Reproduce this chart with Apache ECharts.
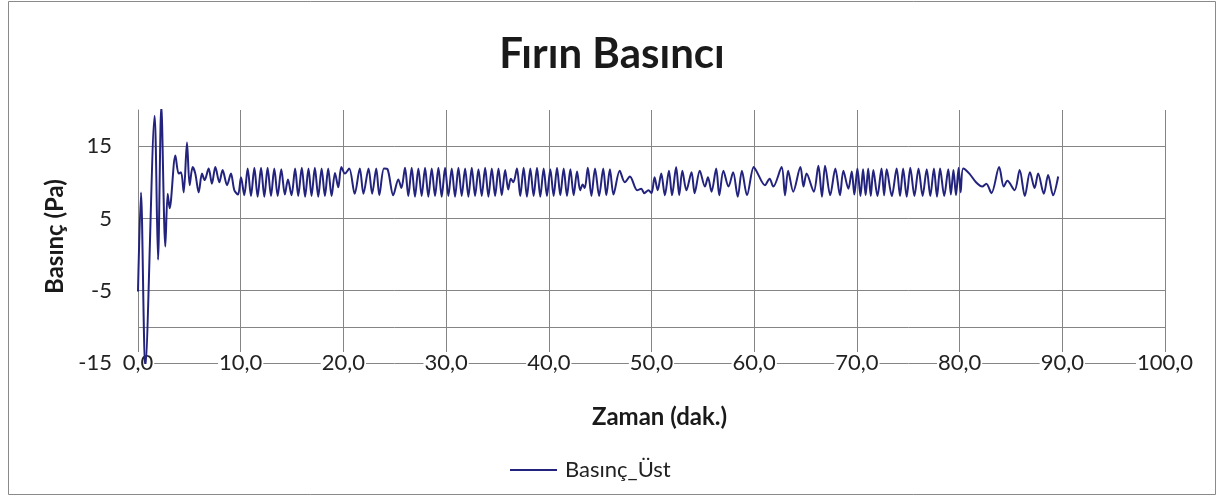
<!DOCTYPE html>
<html>
<head>
<meta charset="utf-8">
<script src="https://cdn.jsdelivr.net/npm/echarts@6/dist/echarts.min.js"></script>
<style>
html,body{margin:0;padding:0;background:#fff;}
#chart{width:1224px;height:501px;}
</style>
</head>
<body>
<div id="chart"></div>
<script>
var basinc_0_20 = [
  [0,-5.1],[0.29,8.6],[0.71,-15.6],[1.62,19.2],[1.95,-0.7],[2.27,20.6],[2.66,1.1],[2.89,8.4],[3.08,6.4],
  [3.64,13.7],[3.96,11.2],[4.19,11.4],[4.45,8.6],[4.77,15.5],[5.03,9.6],[5.32,12.1],[5.58,11.2],[5.91,8.6],
  [6.23,11.2],[6.49,10.3],[6.88,11.9],[7.2,9.8],[7.53,12.1],[7.92,10.0],[8.24,11.7],[8.67,9.6],[9.05,11.2],
  [9.38,8.9],[9.74,8.3],[10.03,10.7],[10.35,8.2],[10.68,11.9],
  [11.0,8.1],[11.33,12.0],[11.65,8.0],[11.98,12.0],[12.3,8.0],[12.62,12.0],[12.95,8.1],[13.27,11.9],
  [13.6,8.1],[13.95,11.8],[14.3,8.3],[14.6,10.4],[14.95,8.2],[15.3,11.9],[15.6,8.1],[15.95,12.0],
  [16.27,8.0],[16.6,11.9],[16.9,8.1],[17.22,12.0],[17.55,8.0],[17.88,11.9],[18.2,8.1],[18.52,11.9],
  [18.85,8.1],[19.18,11.3],[19.5,9.3],[19.8,12.1]
];
var basinc_20_40 = [
  [20.15,11.2],[20.57,11.9],[21.1,8.4],[21.6,11.9],[21.95,8.4],[22.45,11.9],[22.8,8.4],[23.2,11.9],
  [23.5,8.2],[23.95,11.9],[24.3,11.8],[24.85,8.2],[25.35,10.4],[25.65,9.2],[26.0,12.0],[26.32,8.1],
  [26.65,12.0],[26.97,8.0],[27.3,11.9],[27.62,8.1],[27.95,12.0],[28.27,8.0],[28.6,11.9],[28.92,8.1],
  [29.25,12.0],[29.57,8.0],[29.9,12.0],[30.22,8.1],[30.55,11.9],[30.87,8.0],[31.2,12.0],[31.52,8.1],
  [31.85,11.9],[32.17,8.0],[32.5,12.0],[32.82,8.1],[33.15,11.8],[33.47,8.1],[33.8,12.0],[34.12,8.0],
  [34.45,11.9],[34.77,8.1],[35.1,11.9],[35.42,8.2],[35.75,11.7],[36.05,9.0],[36.3,10.5],[36.55,10.0],
  [36.9,11.9],[37.22,8.1],[37.55,12.0],[37.87,8.0],[38.2,11.9],[38.52,8.1],[38.85,12.0],[39.17,8.0],
  [39.5,11.9],[39.82,8.1]
];
var basinc_40_60 = [
  [40.15,11.8],[40.47,8.1],[40.8,12.0],[41.12,8.2],[41.45,11.9],[41.77,8.1],[42.1,11.8],[42.42,8.2],
  [42.75,11.5],[43.05,8.9],[43.3,9.7],[43.5,9.2],[43.8,12.0],[44.15,8.1],[44.5,11.9],[44.9,8.1],
  [45.3,11.9],[45.6,8.2],[45.95,11.8],[46.3,8.3],[46.9,11.6],[47.4,10.0],[47.9,10.8],[48.6,8.9],
  [49.0,9.1],[49.3,8.5],[49.7,8.9],[50.0,8.5],[50.3,10.7],[50.6,8.9],[50.95,11.2],[51.3,8.2],
  [51.7,11.6],[52.0,8.2],[52.4,12.1],[52.7,8.2],[53.0,11.6],[53.4,8.9],[53.9,11.4],[54.2,8.5],
  [54.7,11.6],[55.2,9.4],[55.5,10.7],[55.85,8.7],[56.3,11.9],[56.6,8.2],[57.0,11.6],[57.5,9.4],
  [57.95,11.4],[58.4,8.0],[58.8,11.6],[59.3,8.2],[59.95,12.1]
];
var basinc_60_80 = [
  [60.2,11.6],[61.05,9.6],[61.5,10.5],[61.86,9.4],[62.67,12.1],[63.0,8.2],[63.3,11.6],[63.8,8.7],
  [64.5,12.1],[64.8,9.4],[65.1,11.2],[65.8,8.7],[66.25,12.3],[66.6,8.0],[66.9,12.3],[67.4,8.2],
  [67.9,11.9],[68.35,8.2],[68.68,11.6],[69.17,9.1],[69.5,11.5],[69.75,8.3],[70.05,11.9],[70.35,8.1],
  [70.6,11.8],[70.85,8.2],[71.1,11.9],[71.35,8.1],[71.6,11.7],[72.0,8.1],[72.4,11.9],[72.65,8.2],
  [72.9,11.8],[73.4,8.1],[73.87,11.9],[74.2,8.1],[74.5,11.9],[74.85,8.0],[75.2,12.0],[75.6,8.1],
  [76.0,11.9],[76.4,8.1],[76.8,11.8],[77.15,8.1],[77.5,11.9],[77.8,8.0],[78.1,11.9],[78.5,8.1],
  [78.9,11.8],[79.15,8.3],[79.4,11.7],[79.65,8.2],[79.9,12.0]
];
var basinc_80_90 = [
  [80.1,8.6],[80.35,11.9],[80.95,11.2],[81.6,10.0],[82.2,9.4],[82.6,9.8],[83.1,8.5],[83.85,12.1],
  [84.3,9.4],[84.65,10.2],[85.35,8.9],[85.85,11.7],[86.35,8.1],[86.85,11.4],[87.3,9.2],[87.65,11.2],
  [88.2,8.4],[88.62,11.0],[89.1,8.2],[89.6,10.8]
];
var yTickLabels = [-15, -5, 5, 15];
var seriesName = 'Basınç_Üst';

var allData = [].concat(basinc_0_20, basinc_20_40, basinc_40_60, basinc_60_80, basinc_80_90);

var FONT = 'Lato, "Noto Sans", sans-serif';
var GRID = '#858585';
var LINE = '#23237e';

var chart = echarts.init(document.getElementById('chart'));
chart.setOption({
  backgroundColor: '#fff',
  animation: false,
  title: {
    text: 'Fırın Basıncı',
    left: 'center',
    top: 33,
    padding: 0,
    textStyle: {fontFamily: FONT, fontSize: 42, fontWeight: 'bold', color: '#1a1a1a'}
  },
  legend: {
    data: [{name: seriesName, icon: 'rect'}],
    left: 505,
    top: 451,
    itemWidth: 47,
    itemHeight: 2,
    padding: [8, 5, 8, 5],
    itemStyle: {color: LINE},
    textStyle: {fontFamily: FONT, fontSize: 22, color: '#222', padding: [0, 0, 0, 3]}
  },
  graphic: [{
    type: 'rect',
    silent: true,
    shape: {x: 8.5, y: 1.5, width: 1207, height: 493},
    style: {fill: 'none', stroke: '#8a8a8a', lineWidth: 1}
  }],
  grid: {left: 138, right: 59, top: 110, bottom: 138, containLabel: false},
  xAxis: {
    type: 'value',
    min: 0, max: 100, interval: 10,
    name: 'Zaman (dak.)',
    nameLocation: 'middle',
    nameGap: 42,
    nameTextStyle: {fontFamily: FONT, fontSize: 24, fontWeight: 'bold', color: '#1a1a1a', padding: [0, 0, 0, 16]},
    axisLine: {show: true, onZero: false, lineStyle: {color: GRID, width: 1}},
    axisTick: {show: false},
    axisLabel: {
      fontFamily: FONT, fontSize: 22, color: '#222',
      margin: 0, verticalAlign: 'middle',
      backgroundColor: '#fff', padding: [0, 1],
      formatter: function (v) { return v.toFixed(1).replace('.', ','); }
    },
    splitLine: {show: true, lineStyle: {color: GRID, width: 1}}
  },
  yAxis: {
    type: 'value',
    min: -15, max: 20, interval: 5,
    name: 'Basınç (Pa)',
    nameLocation: 'middle',
    nameGap: 69,
    nameTextStyle: {fontFamily: FONT, fontSize: 24, fontWeight: 'bold', color: '#1a1a1a'},
    axisLine: {show: true, lineStyle: {color: GRID, width: 1}},
    axisTick: {show: false},
    axisLabel: {
      fontFamily: FONT, fontSize: 22, color: '#222', margin: 26,
      formatter: function (v) { return yTickLabels.indexOf(v) >= 0 ? String(v) : ''; }
    },
    splitLine: {
      show: true,
      lineStyle: {
        color: ['rgba(0,0,0,0)', GRID, GRID, 'rgba(0,0,0,0)', GRID, 'rgba(0,0,0,0)', GRID, 'rgba(0,0,0,0)'],
        width: 1
      }
    }
  },
  series: [{
    name: seriesName,
    type: 'line',
    data: allData,
    symbol: 'none',
    smooth: 0.3,
    clip: true,
    lineStyle: {color: LINE, width: 2},
    itemStyle: {color: LINE}
  }]
});
</script>
</body>
</html>
